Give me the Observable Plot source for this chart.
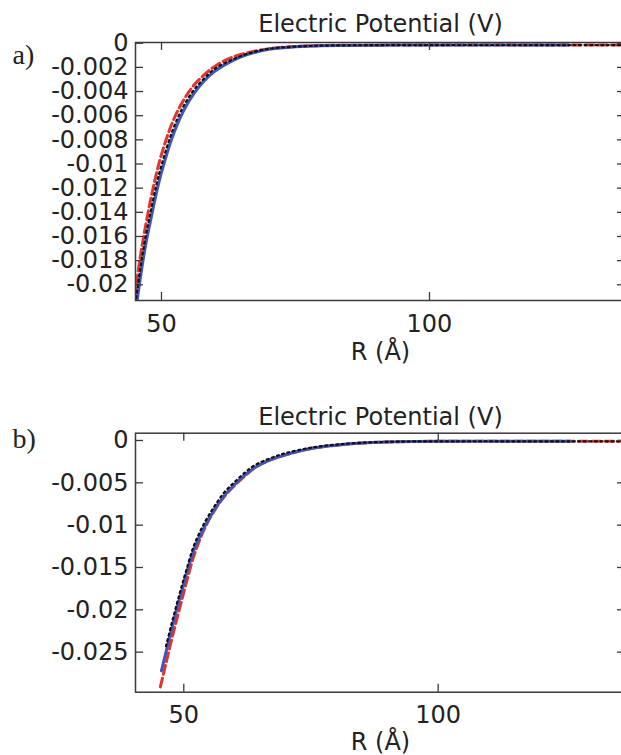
<!DOCTYPE html>
<html>
<head>
<meta charset="utf-8">
<script src="https://cdn.jsdelivr.net/npm/d3@7"></script>
<script src="https://cdn.jsdelivr.net/npm/@observablehq/plot@0.6"></script>
<style>
  html, body { margin: 0; padding: 0; background: #fff; overflow: hidden; }
  .panel { position: absolute; left: 0; width: 621px; overflow: hidden; }
  #pa { top: 0; height: 380px; }
  #pb { top: 380px; height: 375px; }
</style>
</head>
<body>
<div id="pa" class="panel"></div>
<div id="pb" class="panel"></div>
<script>
// ---------- data ----------
const titleText = "Electric Potential (V)";
const xLabelText = "R (Å)";
const tagA = "a)";
const tagB = "b)";

const xTicks = [50, 100];
const xTickLabels = ["50", "100"];

// panel a
const yTicksA = [0, -0.002, -0.004, -0.006, -0.008, -0.01, -0.012, -0.014, -0.016, -0.018, -0.02];
const yLabelsA = ["0", "-0.002", "-0.004", "-0.006", "-0.008", "-0.01", "-0.012", "-0.014", "-0.016", "-0.018", "-0.02"];
const rA     = [45, 46, 47, 48, 49, 50, 52, 54, 56, 58, 60, 63, 66, 70, 75, 80, 90, 100, 126, 137];
const blueA  = [-0.0228, -0.0196, -0.0168, -0.0146, -0.0125, -0.0107, -0.0078, -0.0057, -0.0042, -0.0031, -0.0023, -0.0015, -0.00095, -0.0005, -0.0003, -0.0002, -0.00016, -0.00015, -0.00015, null];
const redA   = [-0.0210, -0.0178, -0.0152, -0.0129, -0.0109, -0.0092, -0.0066, -0.0048, -0.0035, -0.0026, -0.0019, -0.0012, -0.0008, -0.00045, -0.00026, -0.00019, -0.00016, -0.00015, -0.00015, -0.00015];
const blackA = [-0.0220, -0.0188, -0.0161, -0.0139, -0.0118, -0.0101, -0.0073, -0.0053, -0.0039, -0.0029, -0.0021, -0.0014, -0.00088, -0.00047, -0.00028, -0.0002, -0.00016, -0.00015, -0.00015, -0.00015];

// panel b
const yTicksB = [0, -0.005, -0.01, -0.015, -0.02, -0.025];
const yLabelsB = ["0", "-0.005", "-0.01", "-0.015", "-0.02", "-0.025"];
const rB     = [45.4, 45.6, 46.5, 47.5, 48.5, 49.5, 50.5, 52, 54, 56, 58, 60, 62, 64, 67, 70, 75, 80, 86, 92, 100, 126, 137];
const blueB  = [null, -0.0272, -0.0250, -0.0226, -0.0202, -0.0180, -0.0158, -0.0129, -0.0103, -0.0082, -0.0065, -0.0052, -0.0041, -0.0032, -0.0023, -0.0017, -0.00095, -0.00055, -0.00027, -0.00015, -0.0001, -0.0001, null];
const redB   = [-0.0291, -0.0286, -0.0263, -0.0238, -0.0214, -0.0191, -0.0168, -0.0136, -0.0105, -0.0083, -0.0066, -0.0053, -0.0042, -0.0032, -0.0023, -0.0017, -0.00095, -0.00055, -0.00027, -0.00015, -0.0001, -0.0001, -0.0001];
const blackB = [null, null, -0.0243, -0.0219, -0.0196, -0.0174, -0.0153, -0.0124, -0.0098, -0.0078, -0.0061, -0.0049, -0.0038, -0.0029, -0.0021, -0.0015, -0.00085, -0.00048, -0.00024, -0.00014, -0.0001, -0.0001, -0.0001];

// ---------- styles ----------
const BLUE = "#4256b8";
const RED = "#e2342c";
const INK = "#222";
const FRAME = "#3a3a3a";

function makePanel(cfg) {
  const W = 621, ML = 135, MR = -4;
  const pw = W - MR - ML;
  const ph = cfg.height - cfg.mt - cfg.mb;
  const rows = cfg.rs.map((r, i) => ({r, blue: cfg.blue[i], red: cfg.red[i], black: cfg.black[i]}));
  const yFmt = new Map(cfg.yTicks.map((t, i) => [t, cfg.yLabels[i]]));
  const xFmt = new Map(xTicks.map((t, i) => [t, xTickLabels[i]]));
  return Plot.plot({
    width: W,
    height: cfg.height,
    marginLeft: ML,
    marginRight: MR,
    marginTop: cfg.mt,
    marginBottom: cfg.mb,
    style: {fontFamily: "'DejaVu Sans', sans-serif", fontSize: "24px", color: INK, background: "#fff", overflow: "hidden"},
    x: {domain: cfg.xDomain, ticks: xTicks, tickSize: 0, tickPadding: 14, tickFormat: d => xFmt.get(d), label: null},
    y: {domain: cfg.yDomain, ticks: cfg.yTicks, tickSize: 0, tickPadding: 7, tickFormat: d => yFmt.get(d), label: null},
    marks: [
      Plot.line(rows, {x: "r", y: "red", stroke: RED, strokeWidth: 3, strokeDasharray: "9,4", curve: "catmull-rom", clip: true}),
      Plot.line(rows, {x: "r", y: "blue", stroke: BLUE, strokeWidth: 3, curve: "catmull-rom", clip: true}),
      Plot.line(rows, {x: "r", y: "black", stroke: "#111", strokeWidth: 2.2, strokeDasharray: "2,3.5", curve: "catmull-rom", clip: true}),
      Plot.frame({stroke: FRAME, strokeWidth: 1.5}),
      Plot.tickY(cfg.yTicks, {insetRight: pw - 8, stroke: FRAME, strokeWidth: 1.3}),
      Plot.tickY(cfg.yTicks, {insetLeft: pw - 8, stroke: FRAME, strokeWidth: 1.3}),
      Plot.tickX(xTicks, {insetBottom: ph - 8, stroke: FRAME, strokeWidth: 1.3}),
      Plot.tickX(xTicks, {insetTop: ph - 8, stroke: FRAME, strokeWidth: 1.3}),
      Plot.text([titleText], {frameAnchor: "top", lineAnchor: "bottom", dy: cfg.titleDy, fill: INK}),
      Plot.text([xLabelText], {frameAnchor: "bottom", lineAnchor: "bottom", dy: cfg.labelDy, fill: INK}),
      Plot.text([cfg.tag], {frameAnchor: "top-left", textAnchor: "start", lineAnchor: "bottom", dx: -123, dy: cfg.tagDy, fill: INK, fontFamily: "'Liberation Serif', serif", fontSize: 28})
    ]
  });
}

document.getElementById("pa").append(makePanel({
  height: 380, mt: 42, mb: 80,
  xDomain: [45.15, 136.57], yDomain: [-0.0213, 0.00006],
  yTicks: yTicksA, yLabels: yLabelsA,
  rs: rA, blue: blueA, red: redA, black: blackA,
  titleDy: -10.5, labelDy: 59.5, tag: tagA, tagDy: 21
}));

document.getElementById("pb").append(makePanel({
  height: 375, mt: 52.7, mb: 63.3,
  xDomain: [40.51, 136.81], yDomain: [-0.02973, 0.00086],
  yTicks: yTicksB, yLabels: yLabelsB,
  rs: rB, blue: blueB, red: redB, black: blackB,
  titleDy: -8.7, labelDy: 58, tag: tagB, tagDy: 14.5
}));
</script>
</body>
</html>
